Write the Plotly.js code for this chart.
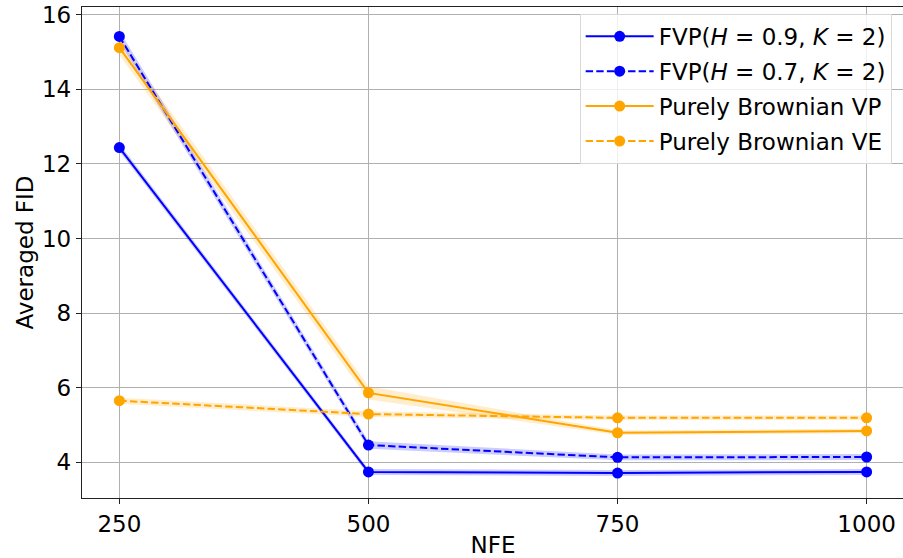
<!DOCTYPE html>
<html><head><meta charset="utf-8">
<script src="https://cdn.plot.ly/plotly-3.0.1.min.js"></script>
<style>html,body{margin:0;padding:0;overflow:hidden;background:#fff}</style>
</head><body><div id="chart"></div>
<script>
const nfe = [250, 500, 750, 1000];
const fvp09 = [12.44, 3.74, 3.71, 3.74];
const fvp09Err = [0.10, 0.08, 0.08, 0.08];
const fvp07 = [15.42, 4.46, 4.13, 4.14];
const fvp07Err = [0.15, 0.10, 0.08, 0.08];
const bVP = [15.12, 5.86, 4.79, 4.84];
const bVPErr = [0.20, 0.18, 0.06, 0.06];
const bVE = [5.65, 5.29, 5.19, 5.19];
const bVEErr = [0.08, 0.08, 0.06, 0.06];
const names = ['FVP(<i>H</i> = 0.9, <i>K</i> = 2)', 'FVP(<i>H</i> = 0.7, <i>K</i> = 2)', 'Purely Brownian VP', 'Purely Brownian VE'];

const BLUE = '#0000ff', ORANGE = '#ffa500';
function band(y, e, color) {
  const up = y.map((v, i) => v + e[i]);
  const lo = y.map((v, i) => v - e[i]);
  return {x: nfe.concat(nfe.slice().reverse()), y: up.concat(lo.slice().reverse()),
    type: 'scatter', mode: 'lines', fill: 'toself', fillcolor: color,
    line: {width: 0}, hoverinfo: 'skip', showlegend: false};
}
function line(y, color, dash, name, grp) {
  return {x: nfe, y: y, type: 'scatter', mode: 'lines+markers', name: name, legendgroup: grp,
    line: {color: color, width: 2, dash: dash}, marker: {color: color, size: 11}};
}
const dashed = '7.4px,3.2px';
const data = [
  band(fvp09, fvp09Err, 'rgba(0,0,255,0.2)'),
  band(fvp07, fvp07Err, 'rgba(0,0,255,0.2)'),
  band(bVP, bVPErr, 'rgba(255,165,0,0.2)'),
  band(bVE, bVEErr, 'rgba(255,165,0,0.2)'),
  line(fvp09, BLUE, 'solid', names[0], 'a'),
  line(fvp07, BLUE, dashed, names[1], 'b'),
  line(bVP, ORANGE, 'solid', names[2], 'c'),
  line(bVE, ORANGE, dashed, names[3], 'd')
];
const font = {family: 'DejaVu Sans', size: 23, color: '#000'};
const layout = {
  width: 905, height: 558,
  margin: {l: 82, r: 1, t: 7, b: 60},
  paper_bgcolor: '#fff', plot_bgcolor: '#fff',
  font: font,
  showlegend: true,
  legend: {x: 0.985, y: 0.986, xanchor: 'right', yanchor: 'top',
    bgcolor: 'rgba(255,255,255,0.8)', bordercolor: '#d8d8d8', borderwidth: 1,
    itemwidth: 68, tracegroupgap: 2,
    font: {family: 'DejaVu Sans', size: 23, color: '#000'}},
  xaxis: {range: [212.5, 1037.5], tickvals: nfe, ticktext: nfe.map(String),
    showgrid: true, gridcolor: '#b0b0b0', gridwidth: 1,
    showline: true, linecolor: '#222', linewidth: 1.2, mirror: true,
    ticks: 'outside', ticklen: 5, tickcolor: '#222', zeroline: false,
    tickfont: font, title: {text: 'NFE', font: font, standoff: 4}},
  yaxis: {range: [3.04, 16.21], tickvals: [4, 6, 8, 10, 12, 14, 16],
    showgrid: true, gridcolor: '#b0b0b0', gridwidth: 1,
    showline: true, linecolor: '#222', linewidth: 1.2, mirror: true,
    ticks: 'outside', ticklen: 5, tickcolor: '#222', zeroline: false,
    tickfont: font, title: {text: 'Averaged FID', font: font, standoff: 1}}
};
Plotly.newPlot('chart', data, layout, {displayModeBar: false, staticPlot: true});
</script></body></html>
